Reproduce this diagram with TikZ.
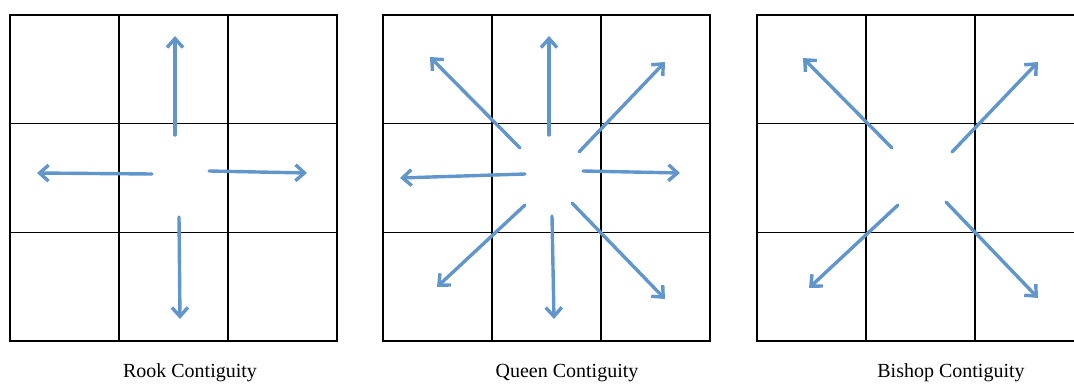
\documentclass[tikz,border=0pt]{standalone}
\usepackage{fontspec}
\setmainfont{Liberation Serif}
\usetikzlibrary{arrows.meta}
\definecolor{arrowblue}{RGB}{96,150,204}
\begin{document}
\begin{tikzpicture}[x=1pt,y=-1pt,
		cell/.style={line width=1.3pt},
		nbr/.style={line width=3.4pt,color=arrowblue,line cap=round,line join=round,-{Straight Barb[length=9pt,width=16pt]}},
		caption/.style={font=\fontsize{20}{24}\selectfont}]
			\useasboundingbox (0,0) rectangle (1074,383);
			\clip (0,0) rectangle (1074,383);
			% the three 3x3 grids
			\foreach \gx in {10,383,757}{
				\foreach \i in {0,...,2}{
					\foreach \j in {0,...,2}{
						\draw [cell] (\gx+\i*109,15+\j*108.7) rectangle ++(109,108.7);
					}
				}
			}
			% rook: the four edge neighbours
			\foreach \ax/\ay/\bx/\by in {175/135/175/36, 152/174/37/173, 209/171/307/173, 179/217/180/319}{
				\draw [nbr] (\ax,\ay)--(\bx,\by);
			}
			% queen: edges and corners
			\foreach \ax/\ay/\bx/\by in {549/135/549/36, 520/148/430/57, 579/152/665/62, 525/174/400/178,
				583/171/680/173, 525/205/437/287, 552/216/554/319, 572/203/665/299}{
				\draw [nbr] (\ax,\ay)--(\bx,\by);
			}
			% bishop: the four corners
			\foreach \ax/\ay/\bx/\by in {892/148/803/58, 952/152/1038/62, 898/205/809/288, 946/202/1038/298}{
				\draw [nbr] (\ax,\ay)--(\bx,\by);
			}
			\node [caption] (rook) at (190,373) {Rook Contiguity};
			\node [caption] (queen) at (567,373) {Queen Contiguity};
			\node [caption] (bishop) at (951,373) {Bishop Contiguity};
\end{tikzpicture}
\end{document}
